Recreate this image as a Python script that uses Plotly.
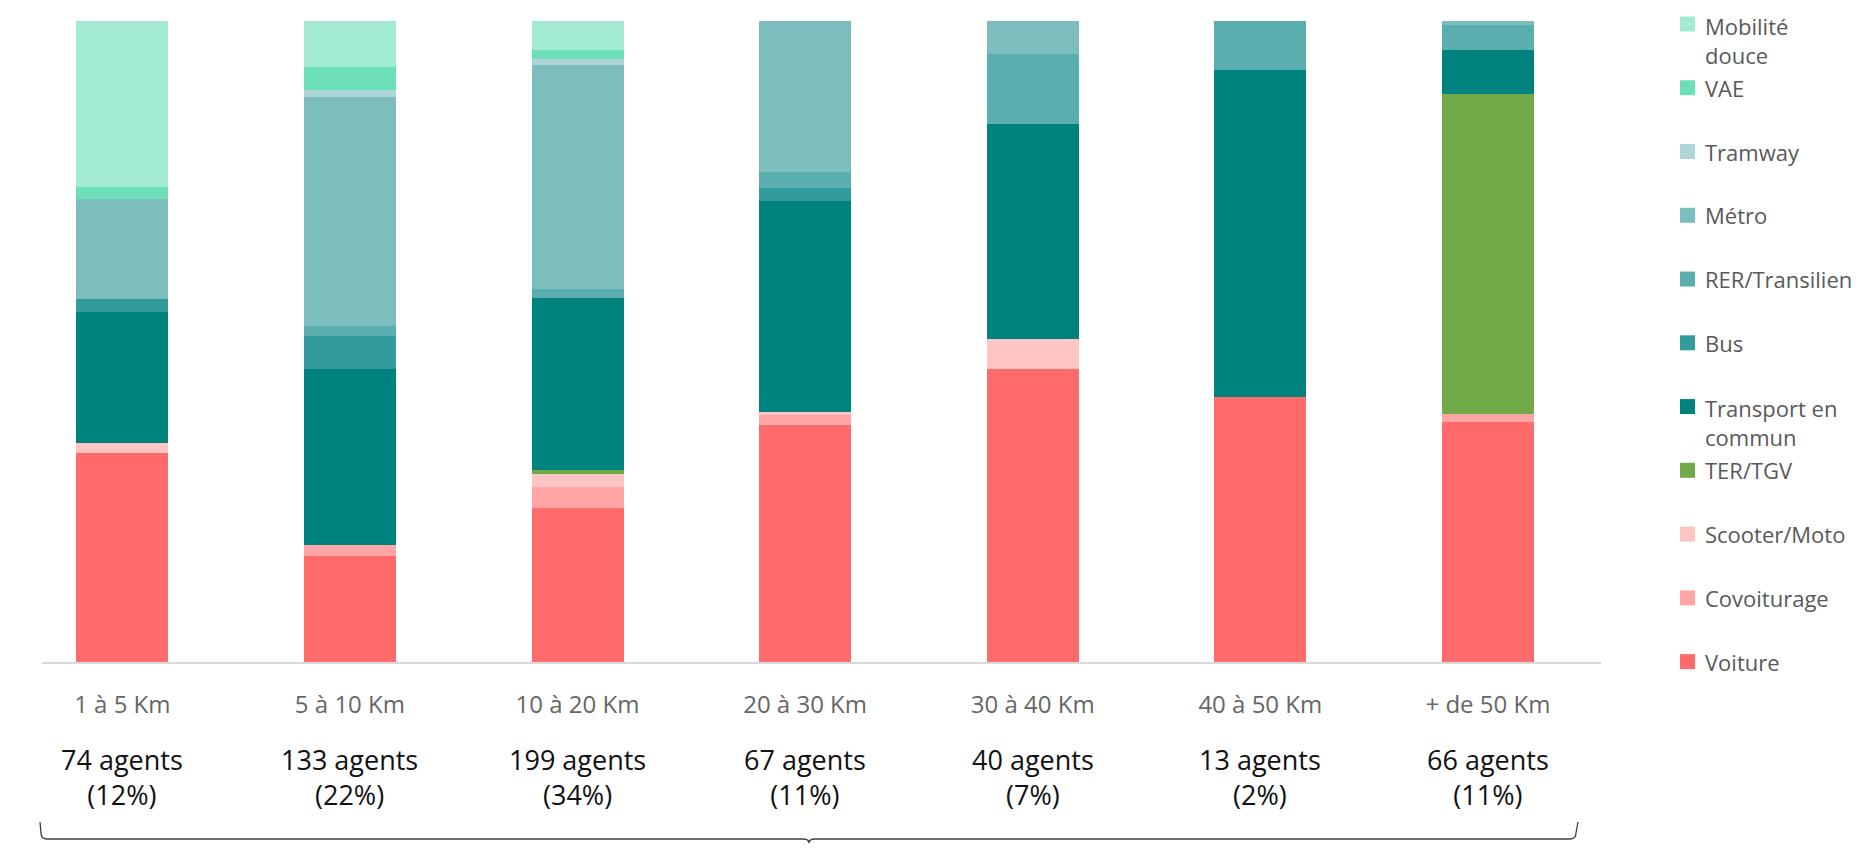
import plotly.graph_objects as go

# distance classes and headcounts
categories = ['1 à 5 Km', '5 à 10 Km', '10 à 20 Km', '20 à 30 Km', '30 à 40 Km', '40 à 50 Km', '+ de 50 Km']
agents = [74, 133, 199, 67, 40, 13, 66]
agents_pct = [12, 22, 34, 11, 7, 2, 11]

# share of each mode per distance class (%)
voiture = [32.5, 16.5, 24.0, 37.0, 45.7, 41.4, 37.5]
covoiturage = [0, 1.7, 3.4, 1.6, 0, 0, 1.2]
scooter_moto = [1.7, 0, 1.9, 0.5, 4.7, 0, 0]
ter_tgv = [0, 0, 0.7, 0, 0, 0, 49.9]
transport_commun = [20.3, 27.5, 26.8, 32.9, 33.5, 50.9, 6.8]
bus = [2.0, 5.2, 0, 2.0, 0, 0, 0]
rer_transilien = [0, 1.6, 1.4, 2.5, 10.8, 7.7, 3.9]
metro = [15.7, 35.8, 35.1, 23.6, 5.2, 0, 0.7]
tramway = [0, 1.1, 0.9, 0, 0, 0, 0]
vae = [1.8, 3.5, 1.4, 0, 0, 0, 0]
mobilite_douce = [25.9, 7.2, 4.5, 0, 0, 0, 0]

# bottom to top
series = [
    ('Voiture', voiture, '#ff6b6b'),
    ('Covoiturage', covoiturage, '#ffa5a5'),
    ('Scooter/Moto', scooter_moto, '#ffc4c4'),
    ('TER/TGV', ter_tgv, '#71ab48'),
    ('Transport en<br>commun', transport_commun, '#00827f'),
    ('Bus', bus, '#339b9b'),
    ('RER/Transilien', rer_transilien, '#5aaeae'),
    ('Métro', metro, '#7bbebd'),
    ('Tramway', tramway, '#acd6d6'),
    ('VAE', vae, '#6ddfb8'),
    ('Mobilité<br>douce', mobilite_douce, '#a2ead3'),
]

FONT = 'Open Sans'

# figure sits 8px inside the page (body margin), work in page pixels
OFF = 8
FIG_W, FIG_H = 1866 - 2 * OFF, 852 - 2 * OFF
L, T, W, H = 42 - OFF, 21 - OFF, 1559, 641


def pxx(x):
    return (x - OFF - L) / W


def pxy(y):
    return (T + H - (y - OFF)) / H


fig = go.Figure()
for name, vals, color in series:
    fig.add_trace(go.Bar(
        x=categories,
        y=vals,
        name=name.replace('<br>', ' '),
        marker=dict(color=color, line=dict(width=0)),
        showlegend=False,
    ))

# agent counts under each class
for cat, n, pct in zip(categories, agents, agents_pct):
    fig.add_annotation(
        x=cat, xref='x', y=-0.179, yref='paper',
        text=f'{n} agents<br>({pct}%)',
        showarrow=False, yanchor='middle',
        font=dict(family=FONT, size=27, color='#111111'),
    )

# legend on the right, top entry = top of the stack, evenly spaced
legend_top, legend_bottom = 24.0, 661.6
legend_step = (legend_bottom - legend_top) / (len(series) - 1)
for k, (name, vals, color) in enumerate(reversed(series)):
    yc = legend_top + k * legend_step
    fig.add_shape(type='rect', xref='paper', yref='paper',
                  x0=pxx(1680), x1=pxx(1695), y0=pxy(yc - 7.5), y1=pxy(yc + 7.5),
                  fillcolor=color, line=dict(width=0))
    two_lines = '<br>' in name
    fig.add_annotation(
        x=pxx(1703), xref='paper', xanchor='left',
        y=pxy(yc + 16 if two_lines else yc), yref='paper', yanchor='middle',
        text=name, align='left', showarrow=False,
        font=dict(family=FONT, size=22, color='#595959'),
    )

# curly brace below everything
x0, x1, xc = 40, 1578, 809
ytop, yline, ytip = 822, 839, 843
r = 6


def pt(x, y):
    return f'{pxx(x):.5f},{pxy(y):.5f}'


path = (
    f'M{pt(x0, ytop)} L{pt(x0 + 1, yline - r)} Q{pt(x0 + 1, yline)} {pt(x0 + 1 + r, yline)} '
    f'L{pt(xc - r, yline)} Q{pt(xc, yline)} {pt(xc, ytip)} '
    f'Q{pt(xc, yline)} {pt(xc + r, yline)} '
    f'L{pt(x1 - 2 - r, yline)} Q{pt(x1 - 2, yline)} {pt(x1 - 2, yline - r)} L{pt(x1, ytop)}'
)
fig.add_shape(type='path', xref='paper', yref='paper', path=path,
              line=dict(color='#404040', width=1.3))

fig.update_layout(
    barmode='stack',
    barnorm='percent',
    bargap=0.596,
    width=FIG_W,
    height=FIG_H,
    margin=dict(l=L, r=FIG_W - L - W, t=T, b=FIG_H - T - H, autoexpand=False),
    plot_bgcolor='white',
    paper_bgcolor='white',
    font=dict(family=FONT, color='#595959'),
    showlegend=False,
    xaxis=dict(
        range=[-0.353, 6.497],
        showline=True, linecolor='#d9d9d9', linewidth=1.5,
        ticks='', showgrid=False, zeroline=False,
        tickfont=dict(family=FONT, size=24, color='#666666'),
        ticklabelstandoff=20,
    ),
    yaxis=dict(range=[0, 100], visible=False, showgrid=False, zeroline=False),
)

fig.write_html('out.html')
